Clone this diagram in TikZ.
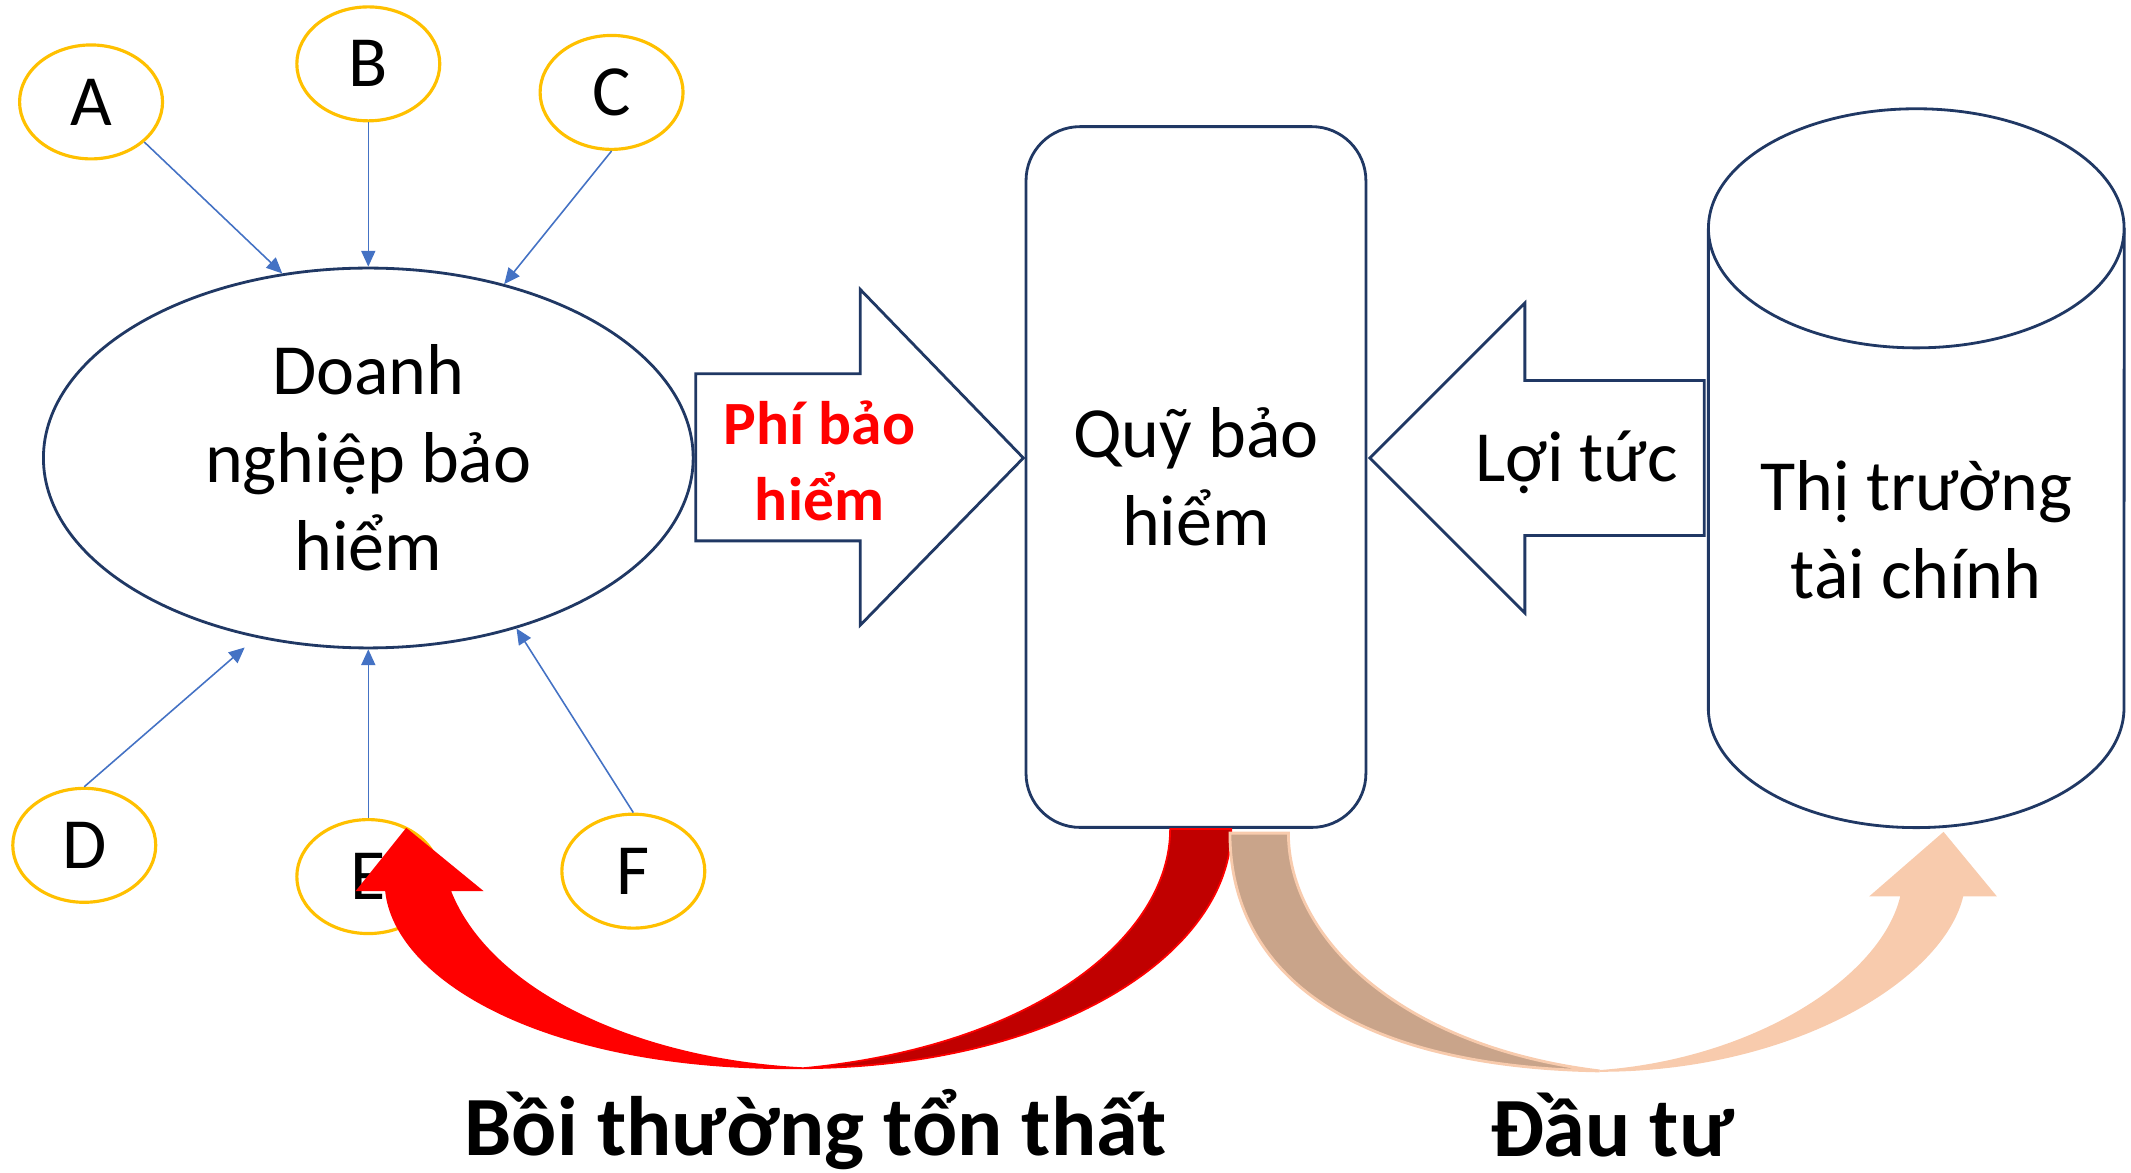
\documentclass[tikz,border=0pt]{standalone}
\usepackage{fontspec}
\setmainfont{Carlito}
\usetikzlibrary{shapes.geometric,arrows.meta}
\definecolor{navyline}{HTML}{203864}
\definecolor{gold}{HTML}{FFC000}
\definecolor{linkblue}{HTML}{4472C4}
\definecolor{darkred}{HTML}{C00000}
\definecolor{peach}{HTML}{F8CBAD}
\definecolor{tan}{HTML}{C9A48A}

\begin{document}
\begin{tikzpicture}[x=0.01359cm,y=-0.01359cm,
  big/.style={font=\fontsize{20.5}{25}\selectfont},
  letter/.style={ellipse,draw=gold,line width=0.9pt,minimum width=1.43cm,minimum height=1.14cm,inner sep=0pt,big},
  link/.style={draw=linkblue,line width=0.45pt,-{Triangle[length=4.5pt,width=4pt]}},
  block/.style={draw=navyline,line width=0.8pt,fill=white},
  caption/.style={font=\fontsize{24}{29}\selectfont\bfseries,anchor=base}]
  \useasboundingbox (0,0) rectangle (1568,863);

  \node[ellipse,block,minimum width=6.5cm,minimum height=3.8cm,align=center,big] (dn) at (271,337) {Doanh\\nghiệp bảo\\hiểm};
  \node[letter] (A) at (67,75) {A};
  \node[letter] (B) at (271,47) {B};
  \node[letter] (C) at (450,68) {C};
  \node[letter] (D) at (62,622) {D};
  \node[letter] (E) at (271,645) {E};
  \node[letter] (F) at (466,641) {F};
  \draw[link] (A.323) -- (dn.115);
  \draw[link] (B.south) -- (dn.north);
  \draw[link] (C.south) -- (dn.52);
  \draw[link,shorten >=0.15cm] (D.north) -- (dn.238);
  \draw[link] (E.north) -- (dn.south);
  \draw[link] (F.north) -- (dn.311);

  \draw[block] (512,275) -- (633,275) -- (633,213) -- (753,337) -- (633,460) -- (633,398) -- (512,398) -- cycle;
  \node[align=center,text=red,font=\fontsize{17.5}{21.8}\selectfont\bfseries] (phi) at (603,339) {Phí bảo\\hiểm};

  \node[block,rounded corners=0.54cm,minimum width=3.4cm,minimum height=7.01cm,align=center,big] (quy) at (880,351) {Quỹ bảo\\hiểm};

  \draw[block] (1254,280) -- (1122,280) -- (1122,223) -- (1008,337) -- (1122,451) -- (1122,394) -- (1254,394) -- cycle;
  \node[big] (loi) at (1160,340) {Lợi tức};

  \draw[block] (1257,168) -- (1257,521) arc[start angle=180,end angle=360,x radius=2.079cm,y radius=1.196cm] -- (1563,168);
  \draw[block] (1410,168) ellipse[x radius=2.079cm,y radius=1.196cm];
  \node[align=center,big] (ttc) at (1410,390) {Thị trường\\tài chính};

  \draw[red,line width=0.5pt,fill=darkred] (906,610) .. controls (906,700) and (780,785) .. (591,786) .. controls (760,770) and (861,690) .. (861,610) -- cycle;
  \draw[red,line width=0.5pt,fill=red] (591,786) .. controls (400,788) and (290,720) .. (284,655) -- (263,655) -- (299,610) -- (354,655) -- (331,655) .. controls (360,730) and (470,780) .. (591,786) -- cycle;

  \draw[peach,line width=0.8pt,fill=tan] (905,613) .. controls (905,720) and (1000,785) .. (1177,788) .. controls (1030,770) and (948,690) .. (948,613) -- cycle;
  \draw[peach,line width=0.5pt,fill=peach] (1177,788) .. controls (1320,788) and (1430,720) .. (1444,659) -- (1468,659) -- (1430,613) -- (1377,659) -- (1399,659) .. controls (1385,720) and (1290,780) .. (1177,788) -- cycle;

  \node[caption] (boi) at (600,850) {Bồi thường tổn thất};
  \node[caption] (dau) at (1186,851) {Đầu tư};
\end{tikzpicture}
\end{document}
